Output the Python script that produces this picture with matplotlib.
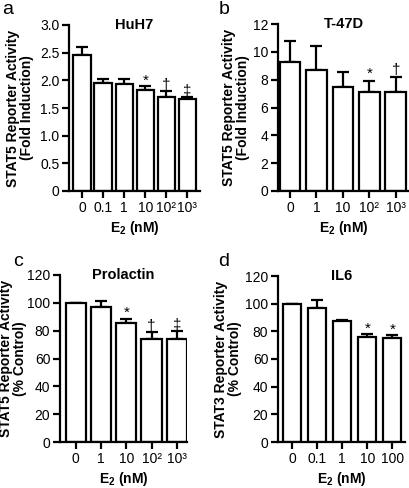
import matplotlib
matplotlib.use("Agg")
import matplotlib.pyplot as plt
import numpy as np

plt.rcParams['font.family'] = ['Liberation Sans', 'DejaVu Sans']
plt.rcParams['mathtext.fontset'] = 'custom'
plt.rcParams['mathtext.rm'] = 'Liberation Sans'
plt.rcParams['mathtext.bf'] = 'Liberation Sans:bold'

# panel data
a_labels = ["0", "0.1", "1", "10", "10²", "10³"]
a_values = [2.45, 1.95, 1.93, 1.82, 1.69, 1.66]
a_errors = [0.15, 0.07, 0.09, 0.07, 0.12, 0.04]
a_marks = ["", "", "", "*", "†", "‡"]

b_labels = ["0", "1", "10", "10²", "10³"]
b_values = [9.3, 8.7, 7.5, 7.1, 7.1]
b_errors = [1.45, 1.75, 1.05, 0.8, 1.1]
b_marks = ["", "", "", "*", "†"]

c_labels = ["0", "1", "10", "10²", "10³"]
c_values = [100, 97, 85.5, 74, 74]
c_errors = [0, 4, 3, 5, 6]
c_marks = ["", "", "*", "†", "‡"]

d_labels = ["0", "0.1", "1", "10", "100"]
d_values = [100, 97, 87.5, 76, 75]
d_errors = [0, 6, 0.8, 2, 2]
d_marks = ["", "", "", "*", "*"]

W, H = 410, 488
fig = plt.figure(figsize=(W / 100, H / 100), dpi=100)


def px_axes(left, top, right, bottom):
    return fig.add_axes([left / W, 1 - bottom / H, (right - left) / W, (bottom - top) / H])


def panel(ax, box, labels, values, errors, marks, ymax, yticks, yticklabels, xlim,
          width, title, ylabel, mark_off, label_x):
    x = np.arange(len(values))
    ax.bar(x, values, width=width, color="white", edgecolor="black", linewidth=1.6,
           zorder=2)
    lower = np.zeros(len(errors))
    ax.errorbar(x, values, yerr=[lower, errors], fmt="none", ecolor="black",
                elinewidth=1.6, capsize=4, capthick=1.6, zorder=1)
    for xi, v, e, m in zip(x, values, errors, marks):
        if m:
            ax.text(xi, v + e + mark_off, m, ha="center", va="center", fontsize=11)
    ax.set_ylim(0, ymax)
    ax.set_xlim(*xlim)
    ax.set_yticks(yticks)
    ax.set_yticklabels(yticklabels, fontsize=10)
    ax.set_xticks(x)
    ax.set_xticklabels(labels, fontsize=10)
    for s in ["top", "right"]:
        ax.spines[s].set_visible(False)
    for s in ["left", "bottom"]:
        ax.spines[s].set_linewidth(1.6)
    ax.tick_params(axis="both", length=5, width=1.6, pad=2)
    ax.set_xlabel(r"E$_\mathbf{2}$ (nM)", fontsize=10, fontweight="bold", labelpad=3)
    ax.set_ylabel(ylabel, fontsize=10, fontweight="bold", linespacing=1.0)
    # label_x is the right edge of the rotated label block, in pixels
    left, right = box[0], box[2]
    ax.yaxis.set_label_coords((label_x - left) / (right - left), 0.5)
    ax.text(0.5, 1.0, title, transform=ax.transAxes, ha="center", va="center",
            fontsize=10.5, fontweight="bold")


box_a = (69, 25, 200, 191)
ax_a = px_axes(*box_a)
panel(ax_a, box_a, a_labels, a_values, a_errors, a_marks, 3.0,
      [0, 0.5, 1.0, 1.5, 2.0, 2.5, 3.0], ["0", "0.5", "1.0", "1.5", "2.0", "2.5", "3.0"],
      (-0.62, 5.6), 0.82, "HuH7", "STAT5 Reporter Activity\n(Fold Induction)", 0.1, 34)

box_b = (278, 24, 409, 191)
ax_b = px_axes(*box_b)
panel(ax_b, box_b, b_labels, b_values, b_errors, b_marks, 12,
      [0, 2, 4, 6, 8, 10, 12], ["0", "2", "4", "6", "8", "10", "12"],
      (-0.45, 4.5), 0.78, "T-47D", "STAT5 Reporter Activity\n(Fold Induction)", 0.5, 250)

box_c = (60, 275, 187, 442)
ax_c = px_axes(*box_c)
panel(ax_c, box_c, c_labels, c_values, c_errors, c_marks, 120,
      [0, 20, 40, 60, 80, 100, 120], ["0", "20", "40", "60", "80", "100", "120"],
      (-0.62, 4.4), 0.8, "Prolactin", "STAT5 Reporter Activity\n(% Control)", 4, 27)

box_d = (278, 276, 405, 442)
ax_d = px_axes(*box_d)
panel(ax_d, box_d, d_labels, d_values, d_errors, d_marks, 120,
      [0, 20, 40, 60, 80, 100, 120], ["0", "20", "40", "60", "80", "100", "120"],
      (-0.56, 4.5), 0.72, "IL6", "STAT3 Reporter Activity\n(% Control)", 4, 242)

for lbl, (px, py) in zip("abcd", [(2, 9), (219, 9), (13, 262), (218, 262)]):
    fig.text(px / W, 1 - py / H, lbl, fontsize=14, ha="left", va="center")

fig.savefig("out.png", dpi=100)
